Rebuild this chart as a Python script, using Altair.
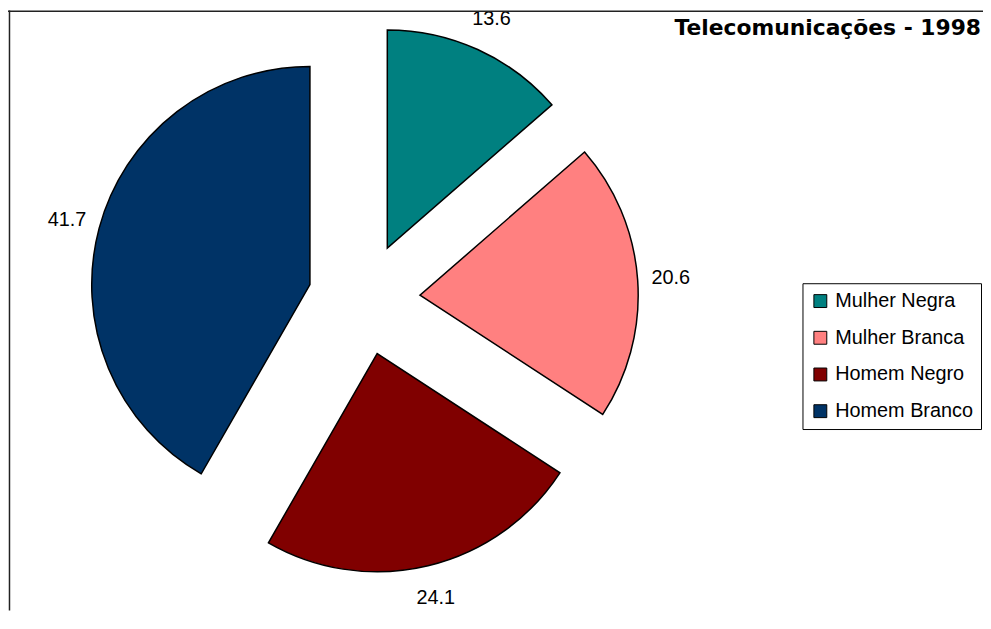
import altair as alt
import pandas as pd

# Data
categories = ["Mulher Negra", "Mulher Branca", "Homem Negro", "Homem Branco"]
values = [13.6, 20.6, 24.1, 41.7]
order = [0, 1, 2, 3]
colors = ["#008080", "#FF8080", "#800000", "#003366"]
title_text = "Telecomunicações - 1998"

df = pd.DataFrame({"cat": categories, "val": values, "ord": order})

W, H = 983, 605
CX, CY = 359, 291          # pie centre inside the view
EXPLODE = 56.5             # explosion distance
R = 220                    # pie radius
LABEL_R = 310              # label distance from centre

xs = alt.Scale(domain=[-CX, W - CX], range=[0, W])
ys = alt.Scale(domain=[-CY, H - CY], range=[0, H])

base = (
    alt.Chart(df)
    .transform_joinaggregate(total="sum(val)")
    .transform_window(cum="sum(val)", sort=[alt.SortField("ord")], frame=[None, 0])
    .transform_calculate(
        a1="datum.cum / datum.total * 2 * PI",
        a0="(datum.cum - datum.val) / datum.total * 2 * PI",
    )
    .transform_calculate(mid="(datum.a0 + datum.a1) / 2")
    .transform_calculate(
        ex=f"sin(datum.mid) * {EXPLODE}",
        ey=f"-cos(datum.mid) * {EXPLODE}",
        lx=f"sin(datum.mid) * {LABEL_R}",
        ly=f"-cos(datum.mid) * {LABEL_R}",
    )
)

pie = base.mark_arc(outerRadius=R, stroke="black", strokeWidth=1.5).encode(
    x=alt.X("ex:Q", scale=xs, axis=None),
    y=alt.Y("ey:Q", scale=ys, axis=None),
    theta=alt.Theta("a0:Q", scale=None, stack=None),
    theta2=alt.Theta2("a1:Q"),
    fill=alt.Fill(
        "cat:N",
        scale=alt.Scale(domain=categories, range=colors),
        sort=categories,
        legend=alt.Legend(
            title=None,
            orient="none",
            legendX=801,
            legendY=275,
            direction="vertical",
            symbolType="square",
            symbolSize=169,
            symbolStrokeColor="black",
            symbolStrokeWidth=1,
            symbolOpacity=1,
            labelFont="Liberation Sans",
            labelFontSize=20,
            labelColor="black",
            labelOffset=5,
            rowPadding=17,
            padding=8,
            strokeColor="black",
            fillColor="white",
            labelLimit=300,
        ),
    ),
)

labels = base.mark_text(
    font="Liberation Sans", fontSize=20, color="black", align="center", baseline="middle"
).encode(
    x=alt.X("lx:Q", scale=xs, axis=None),
    y=alt.Y("ly:Q", scale=ys, axis=None),
    text=alt.Text("val:Q", format=".1f"),
)

frame_df = pd.DataFrame({"k": [0]})
left_rule = alt.Chart(frame_df).mark_rule(color="#222222", strokeWidth=1.5).encode(
    x=alt.value(1.5), y=alt.value(0), y2=alt.value(H)
)
top_rule = alt.Chart(frame_df).mark_rule(color="#222222", strokeWidth=1.5).encode(
    x=alt.value(0), x2=alt.value(W), y=alt.value(0.75)
)

title = alt.Chart(frame_df).mark_text(
    font="DejaVu Sans", fontSize=22, fontWeight="bold", color="black",
    align="right", baseline="alphabetic"
).encode(x=alt.value(981), y=alt.value(25), text=alt.value(title_text))

chart = (
    alt.layer(pie, labels, left_rule, top_rule, title)
    .properties(
        width=W,
        height=H,
        padding=0,
        autosize=alt.AutoSizeParams(type="none"),
        background="white",
    )
    .configure_view(stroke=None)
)

chart.save("out.html", embed_options={"renderer": "svg", "actions": False})
